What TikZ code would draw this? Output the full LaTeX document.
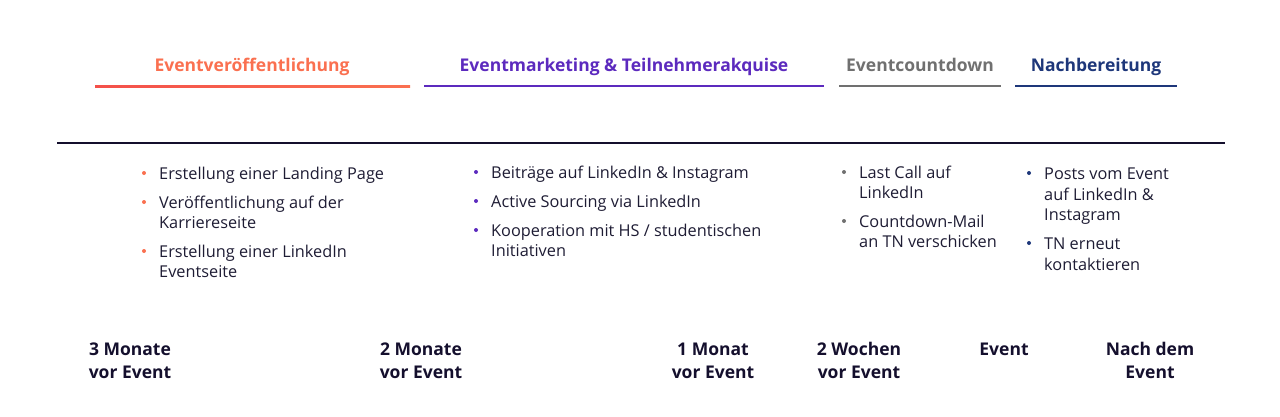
\documentclass[tikz,border=0pt]{standalone}
\usepackage{fontspec}
\setmainfont{Open Sans}
\definecolor{cOrange}{RGB}{250,112,80}
\definecolor{cRed}{RGB}{244,80,74}
\definecolor{cPurple}{RGB}{92,42,190}
\definecolor{cGray}{RGB}{112,112,112}
\definecolor{cNavy}{RGB}{30,55,122}
\definecolor{cLine}{RGB}{20,15,45}
\definecolor{cText}{RGB}{30,28,52}
\begin{document}
\begin{tikzpicture}[x=1pt,y=-1pt,
  head/.style={anchor=base,font=\fontsize{17.5}{20}\selectfont\bfseries,inner sep=0pt},
  uline/.style={line width=2pt},
  item/.style={anchor=base west,font=\fontsize{16.3}{20}\selectfont,text=cText,inner sep=0pt},
  dot/.style={circle,fill=#1,inner sep=0pt,minimum size=4pt},
  when/.style={anchor=base,align=center,font=\fontsize{17.5}{23}\selectfont\bfseries,text=cLine,inner sep=0pt}]
\useasboundingbox (0,0) rectangle (1280,416);
% headings
\node[head,text=cOrange] (h1) at (252,71) {Eventveröffentlichung};
\node[head,text=cPurple] (h2) at (624,71) {Eventmarketing \& Teilnehmerakquise};
\node[head,text=cGray] (h3) at (920,71) {Eventcountdown};
\node[head,text=cNavy] (h4) at (1096,71) {Nachbereitung};
% underlines
\coordinate (u2a) at (424,86); \coordinate (u2b) at (824,86);
\coordinate (u3a) at (839,86); \coordinate (u3b) at (1001,86);
\coordinate (u4a) at (1015,86); \coordinate (u4b) at (1177,86);
\shade[left color=cRed,right color=cOrange] (95,85) rectangle (410,87);
\draw[uline,cPurple] (u2a) -- (u2b);
\draw[uline,cGray] (u3a) -- (u3b);
\draw[uline,cNavy] (u4a) -- (u4b);
% main timeline
\coordinate (tl0) at (57,143); \coordinate (tl1) at (1225,143);
\draw[line width=2pt,cLine] (tl0) -- (tl1);
% column 1
\node[dot=cOrange] (b11) at (144,173) {};
\node[item] (t11) at (159,179) {Erstellung einer Landing Page};
\node[dot=cOrange] (b12) at (144,202) {};
\node[item] (t12a) at (159,208) {Veröffentlichung auf der};
\node[item] (t12b) at (159,228) {Karriereseite};
\node[dot=cOrange] (b13) at (144,251) {};
\node[item] (t13a) at (159,257) {Erstellung einer LinkedIn};
\node[item] (t13b) at (159,277) {Eventseite};
% column 2
\node[dot=cPurple] (b21) at (476,172) {};
\node[item] (t21) at (491,178) {Beiträge auf LinkedIn \& Instagram};
\node[dot=cPurple] (b22) at (476,201) {};
\node[item] (t22) at (491,207) {Active Sourcing via LinkedIn};
\node[dot=cPurple] (b23) at (476,230) {};
\node[item] (t23a) at (491,236) {Kooperation mit HS / studentischen};
\node[item] (t23b) at (491,256) {Initiativen};
% column 3
\node[dot=cGray] (b31) at (844,172) {};
\node[item] (t31a) at (859,178) {Last Call auf};
\node[item] (t31b) at (859,198) {LinkedIn};
\node[dot=cGray] (b32) at (844,221) {};
\node[item] (t32a) at (859,227) {Countdown-Mail};
\node[item] (t32b) at (859,247) {an TN verschicken};
% column 4
\node[dot=cNavy] (b41) at (1029,173) {};
\node[item] (t41a) at (1044,179) {Posts vom Event};
\node[item] (t41b) at (1044,200) {auf LinkedIn \&};
\node[item] (t41c) at (1044,220) {Instagram};
\node[dot=cNavy] (b42) at (1029,243) {};
\node[item] (t42a) at (1044,249) {TN erneut};
\node[item] (t42b) at (1044,270) {kontaktieren};
% time labels (base anchor = last line baseline)
\node[when] (w1) at (130,378) {3 Monate\\vor Event};
\node[when] (w2) at (421,378) {2 Monate\\vor Event};
\node[when] (w3) at (713,378) {1 Monat\\vor Event};
\node[when] (w4) at (859,378) {2 Wochen\\vor Event};
\node[when] (w5) at (1004,355) {Event};
\node[when] (w6) at (1150,378) {Nach dem\\Event};
\end{tikzpicture}
\end{document}
